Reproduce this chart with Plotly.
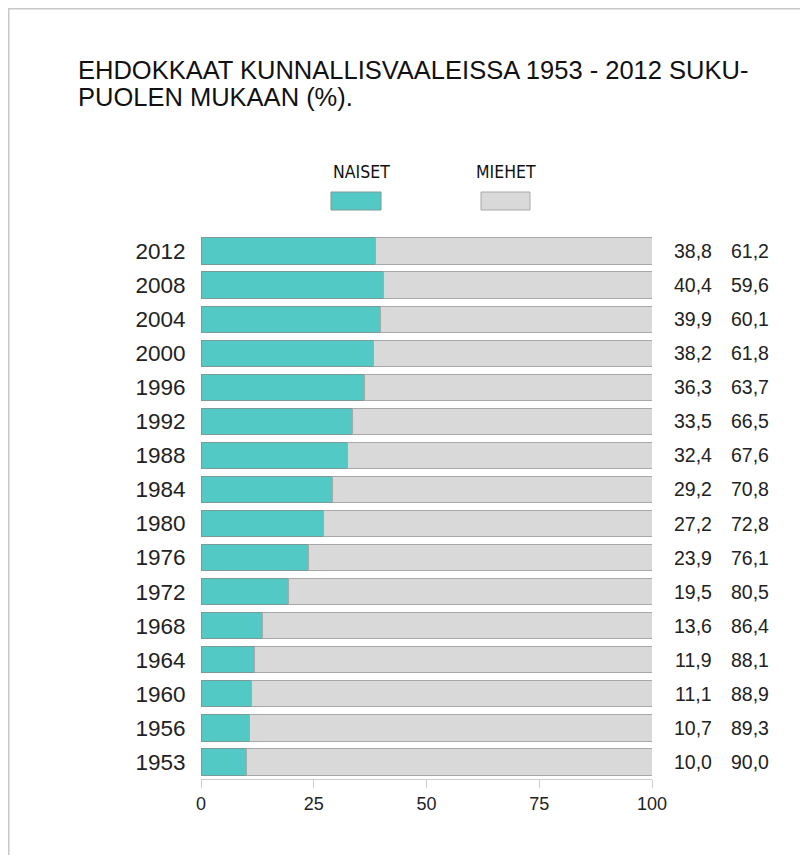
import plotly.graph_objects as go

years = ["2012", "2008", "2004", "2000", "1996", "1992", "1988", "1984",
         "1980", "1976", "1972", "1968", "1964", "1960", "1956", "1953"]
naiset = [38.8, 40.4, 39.9, 38.2, 36.3, 33.5, 32.4, 29.2,
          27.2, 23.9, 19.5, 13.6, 11.9, 11.1, 10.7, 10.0]
miehet = [61.2, 59.6, 60.1, 61.8, 63.7, 66.5, 67.6, 70.8,
          72.8, 76.1, 80.5, 86.4, 88.1, 88.9, 89.3, 90.0]
x_ticks = [0, 25, 50, 75, 100]

TEAL = "#52C9C4"
GRAY = "#D9D9D9"
FONT = "Liberation Sans, Arial, sans-serif"
NARROW = "Liberation Sans Narrow, Arial Narrow, DejaVu Sans Condensed, sans-serif"

order = years[::-1]  # bottom first

fig = go.Figure()
fig.add_trace(go.Bar(y=years, x=naiset, orientation="h", name="NAISET",
                     marker=dict(color=TEAL, line=dict(color="#7a9a98", width=1))))
fig.add_trace(go.Bar(y=years, x=miehet, orientation="h", name="MIEHET",
                     marker=dict(color=GRAY, line=dict(color="#a8a8a8", width=1))))

def fmt(v):
    return f"{v:.1f}".replace(".", ",")

# page body has an 8px margin, so work in window pixels and shift
OFF = 8
W, H = 808, 855
PL, PR, PT, PB = 201, 652, 234, 779   # plot area in window pixels
L, T = PL - OFF, PT - OFF
R, B = W - (PR - OFF), H - (PB - OFF)
pw, ph = PR - PL, PB - PT

def px(xp):
    return (xp - PL) / pw

def py(yp):
    return (PB - yp) / ph

annotations = []
for y, n, m in zip(years, naiset, miehet):
    idx = order.index(y)
    annotations.append(dict(x=px(693), y=idx, xref="paper", yref="y", text=fmt(n), showarrow=False,
                            font=dict(size=19.5, color="#222", family=FONT),
                            xanchor="center", yanchor="middle"))
    annotations.append(dict(x=px(750), y=idx, xref="paper", yref="y", text=fmt(m), showarrow=False,
                            font=dict(size=19.5, color="#222", family=FONT),
                            xanchor="center", yanchor="middle"))

# title (two lines)
for txt, yc in [("EHDOKKAAT KUNNALLISVAALEISSA 1953 - 2012 SUKU-", 70),
                ("PUOLEN MUKAAN (%).", 97)]:
    annotations.append(dict(x=px(76), y=py(yc), xref="paper", yref="paper",
                            xanchor="left", yanchor="middle", showarrow=False, text=txt,
                            font=dict(size=25.5, color="#111", family=FONT)))
# legend labels
annotations.append(dict(x=px(361), y=py(172), xref="paper", yref="paper", showarrow=False,
                        xanchor="center", yanchor="middle",
                        text="NAISET", font=dict(size=17.5, color="#111", family=NARROW)))
annotations.append(dict(x=px(506), y=py(172), xref="paper", yref="paper", showarrow=False,
                        xanchor="center", yanchor="middle",
                        text="MIEHET", font=dict(size=17.5, color="#111", family=NARROW)))

shapes = [
    dict(type="rect", xref="paper", yref="paper", x0=px(331), x1=px(381), y0=py(210), y1=py(192),
         fillcolor=TEAL, line=dict(color="#7a9a98", width=1)),
    dict(type="rect", xref="paper", yref="paper", x0=px(481), x1=px(530), y0=py(210), y1=py(192),
         fillcolor=GRAY, line=dict(color="#a8a8a8", width=1)),
    dict(type="line", xref="paper", yref="paper", x0=px(8.5), x1=px(8.5), y0=py(8), y1=py(880),
         line=dict(color="#c8c8c8", width=2)),
    dict(type="line", xref="paper", yref="paper", x0=px(8), x1=px(840), y0=py(8.5), y1=py(8.5),
         line=dict(color="#c8c8c8", width=2)),
]

fig.update_layout(
    barmode="stack",
    bargap=0.23,
    width=W, height=H,
    margin=dict(l=L, r=R, t=T, b=B),
    plot_bgcolor="white", paper_bgcolor="white",
    showlegend=False,
    annotations=annotations,
    shapes=shapes,
    font=dict(family=FONT, color="#222"),
    xaxis=dict(range=[0, 100], tickvals=x_ticks, showgrid=False, zeroline=False,
               showline=True, linecolor="#cccccc", linewidth=1,
               ticks="outside", ticklen=8, tickcolor="#cccccc",
               tickfont=dict(size=18, color="#222"), fixedrange=True),
    yaxis=dict(type="category", categoryorder="array", categoryarray=order,
               range=[-0.5, len(order) - 0.5], autorange=False, showgrid=False,
               zeroline=False, showline=False, ticks="outside", ticklen=10, tickcolor="rgba(0,0,0,0)",
               tickfont=dict(size=22.5, color="#222"), fixedrange=True),
)

fig.write_html("out.html")
